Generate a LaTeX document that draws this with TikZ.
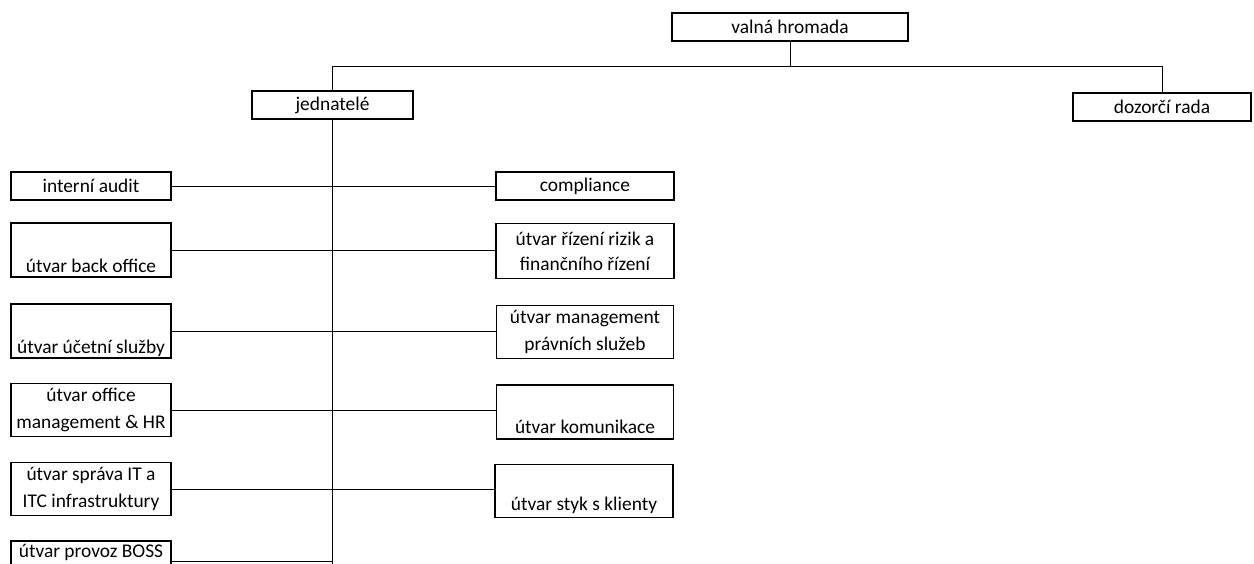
\documentclass[tikz,border=0pt]{standalone}
\usepackage{fontspec}
\setmainfont{Carlito}
\begin{document}
\begin{tikzpicture}[x=1pt,y=-1pt,
  box/.style={draw, line width=1.3pt, inner sep=0pt, outer sep=0pt, align=center,
    font=\fontsize{19.4}{25}\selectfont},
  lbl/.style={inner sep=0pt, anchor=base, font=\fontsize{19.4}{25}\selectfont},
  conn/.style={line width=0.9pt}]
\useasboundingbox (0,0) rectangle (1254,563);
\clip (0,0) rectangle (1254,563);
% top level
\node[box, minimum width=236pt, minimum height=28pt] (valna) at (790,27) {valná hromada};
\node[box, minimum width=161pt, minimum height=28pt] (jed) at (332.5,105) {jednatelé};
\node[box, minimum width=178pt, minimum height=28pt] (dozor) at (1162,107) {dozorčí rada};
% left column
\node[box, minimum width=160pt, minimum height=28pt] (audit) at (91,186) {interní audit};
\node[box, minimum width=160pt, minimum height=54pt] (back) at (91,250) {};
\node[lbl] (backt) at ([yshift=5pt]back.south) {útvar back office};
\node[box, minimum width=160pt, minimum height=54pt] (ucet) at (91,331) {};
\node[lbl] (ucett) at ([yshift=5pt]ucet.south) {útvar účetní služby};
\node[box, minimum width=160pt, minimum height=53pt] (office) at (91,410) {útvar office\\[2pt]management \& HR};
\node[box, minimum width=160pt, minimum height=53pt] (sprava) at (91,489) {útvar správa IT a\\[2pt]ITC infrastruktury};
\node[box, minimum width=160pt, minimum height=54pt] (boss) at (91,568) {};
\node[lbl] (bosst) at ([yshift=-16.5pt]boss.north) {útvar provoz BOSS};
% right column
\node[box, minimum width=178pt, minimum height=28pt] (compl) at (585,186) {compliance};
\node[box, minimum width=178pt, minimum height=55pt] (rizik) at (585,251) {útvar řízení rizik a\\finančního řízení};
\node[box, minimum width=177pt, minimum height=53pt] (pravni) at (585,332) {útvar management\\[2pt]právních služeb};
\node[box, minimum width=177pt, minimum height=54pt] (komun) at (585,412) {};
\node[lbl] (komunt) at ([yshift=6pt]komun.south) {útvar komunikace};
\node[box, minimum width=178pt, minimum height=53pt] (styk) at (584,491) {};
\node[lbl] (stykt) at ([yshift=7pt]styk.south) {útvar styk s klienty};
% helper coordinates
\coordinate (bus) at (0,66);
\coordinate (bossy) at (0,561);
\coordinate (bottom) at (0,575);
% connectors
\draw[conn] (valna.south) -- (valna.south |- bus);
\draw[conn] (jed.north) -- (jed.north |- bus) -- (dozor.north |- bus) -- (dozor.north);
\draw[conn] (jed.south) -- (jed.south |- bottom);
\draw[conn] (audit.east) -- (audit.east -| compl.west);
\draw[conn] (back.east) -- (back.east -| rizik.west);
\draw[conn] (ucet.east) -- (ucet.east -| pravni.west);
\draw[conn] (office.east) -- (office.east -| komun.west);
\draw[conn] (sprava.east) -- (sprava.east -| styk.west);
\draw[conn] (boss.east |- bossy) -- (jed.south |- bossy);
\end{tikzpicture}
\end{document}
